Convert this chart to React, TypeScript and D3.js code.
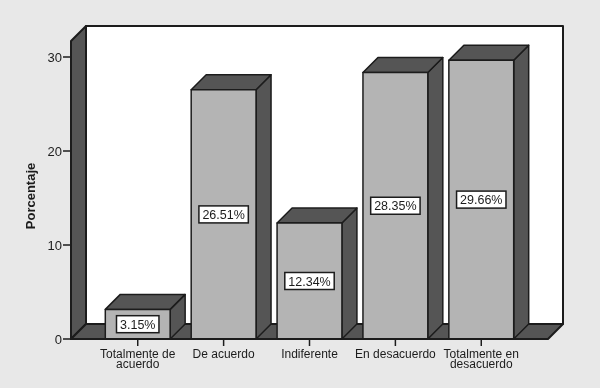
import React, { useEffect, useRef } from 'react';
import * as d3 from 'd3';

const categories = ['Totalmente de acuerdo', 'De acuerdo', 'Indiferente', 'En desacuerdo', 'Totalmente en desacuerdo'];
const labelLines = [['Totalmente de', 'acuerdo'], ['De acuerdo'], ['Indiferente'], ['En desacuerdo'], ['Totalmente en', 'desacuerdo']];
const percentages = [3.15, 26.51, 12.34, 28.35, 29.66];
const yTicks = [0, 10, 20, 30];

const FONT = '"Liberation Sans", Arial, sans-serif';
const DARK = '#555555';
const BAR = '#b4b4b4';
const INK = '#1c1c1c';

function App() {
  const ref = useRef<SVGSVGElement | null>(null);

  useEffect(() => {
    const element = ref.current;
    if (!element) return;

    // Clear previous
    element.innerHTML = '';

    const width = 600;
    const height = 388;
    const depth = 15;
    const left = 71;
    const right = 548;

    const y = d3.scaleLinear().domain([0, 30]).range([339, 57]);
    const x = d3.scaleBand().domain(categories).range([95, 524]).paddingInner(0.245).paddingOuter(0.12);
    const top = y(30) - 16;

    const root = d3.select(element).attr('width', width).attr('height', height);

    // The reference is a soft scan, so everything gets a very light blur
    root
      .append('defs')
      .append('filter')
      .attr('id', 'soft')
      .append('feGaussianBlur')
      .attr('stdDeviation', 0.35);

    const svg = root.append('g').attr('filter', 'url(#soft)');

    svg.append('rect').attr('x', -4).attr('y', -4).attr('width', width + 8).attr('height', height + 8).attr('fill', '#e8e8e8');

    const poly = (points: number[][], fill: string, strokeWidth = 1.5) =>
      svg
        .append('polygon')
        .attr('points', points.join(' '))
        .attr('fill', fill)
        .attr('stroke', INK)
        .attr('stroke-width', strokeWidth)
        .attr('stroke-linejoin', 'round');

    // Back wall, side wall and floor
    poly([[left + depth, top - depth], [right + depth, top - depth], [right + depth, y(0) - depth], [left + depth, y(0) - depth]], '#ffffff', 2);
    poly([[left, top], [left + depth, top - depth], [left + depth, y(0) - depth], [left, y(0)]], DARK, 2);
    poly([[left, y(0)], [left + depth, y(0) - depth], [right + depth, y(0) - depth], [right, y(0)]], DARK, 2);

    // Bars
    categories.forEach((c, i) => {
      const x0 = x(c) as number;
      const x1 = x0 + x.bandwidth();
      const yTop = y(percentages[i]);
      const yBase = y(0);
      poly([[x1, yBase], [x1 + depth, yBase - depth], [x1 + depth, yTop - depth], [x1, yTop]], DARK);
      poly([[x0, yTop], [x0 + depth, yTop - depth], [x1 + depth, yTop - depth], [x1, yTop]], DARK);
      poly([[x0, yBase], [x0, yTop], [x1, yTop], [x1, yBase]], BAR);

      const cx = (x0 + x1) / 2;
      const cy = (yTop + yBase) / 2;
      const box = svg.append('rect');
      const label = svg
        .append('text')
        .attr('x', cx)
        .attr('y', cy + 4.5)
        .attr('text-anchor', 'middle')
        .attr('font-family', FONT)
        .attr('font-size', 12.5)
        .attr('fill', INK)
        .text(`${percentages[i].toFixed(2)}%`);
      const w = (label.node() as SVGTextElement).getComputedTextLength() + 7;
      box
        .attr('x', cx - w / 2)
        .attr('y', cy - 8.5)
        .attr('width', w)
        .attr('height', 17)
        .attr('fill', '#ffffff')
        .attr('stroke', INK)
        .attr('stroke-width', 1.5);
    });

    // Axis line
    svg.append('line').attr('x1', left).attr('x2', right).attr('y1', y(0)).attr('y2', y(0)).attr('stroke', INK).attr('stroke-width', 2);

    // Y ticks
    yTicks.forEach((t) => {
      svg.append('line').attr('x1', left - 8).attr('x2', left).attr('y1', y(t)).attr('y2', y(t)).attr('stroke', INK).attr('stroke-width', 1.5);
      svg
        .append('text')
        .attr('x', left - 9)
        .attr('y', y(t) + 4.5)
        .attr('text-anchor', 'end')
        .attr('font-family', FONT)
        .attr('font-size', 13)
        .attr('fill', INK)
        .text(t);
    });

    // X ticks and labels
    categories.forEach((c, i) => {
      const cx = (x(c) as number) + x.bandwidth() / 2;
      svg.append('line').attr('x1', cx).attr('x2', cx).attr('y1', y(0)).attr('y2', y(0) + 7).attr('stroke', INK).attr('stroke-width', 1.5);
      labelLines[i].forEach((line, j) => {
        svg
          .append('text')
          .attr('x', cx)
          .attr('y', 357.5 + j * 10.5)
          .attr('text-anchor', 'middle')
          .attr('font-family', FONT)
          .attr('font-size', 12)
          .attr('fill', INK)
          .text(line);
      });
    });

    // Y title
    svg
      .append('text')
      .attr('transform', `translate(35,196) rotate(-90)`)
      .attr('text-anchor', 'middle')
      .attr('font-family', FONT)
      .attr('font-size', 13)
      .attr('font-weight', 'bold')
      .attr('fill', INK)
      .text('Porcentaje');
  }, []);

  return <svg ref={ref} style={{ position: 'absolute', left: 0, top: 0, display: 'block' }} />;
}

export default App;
